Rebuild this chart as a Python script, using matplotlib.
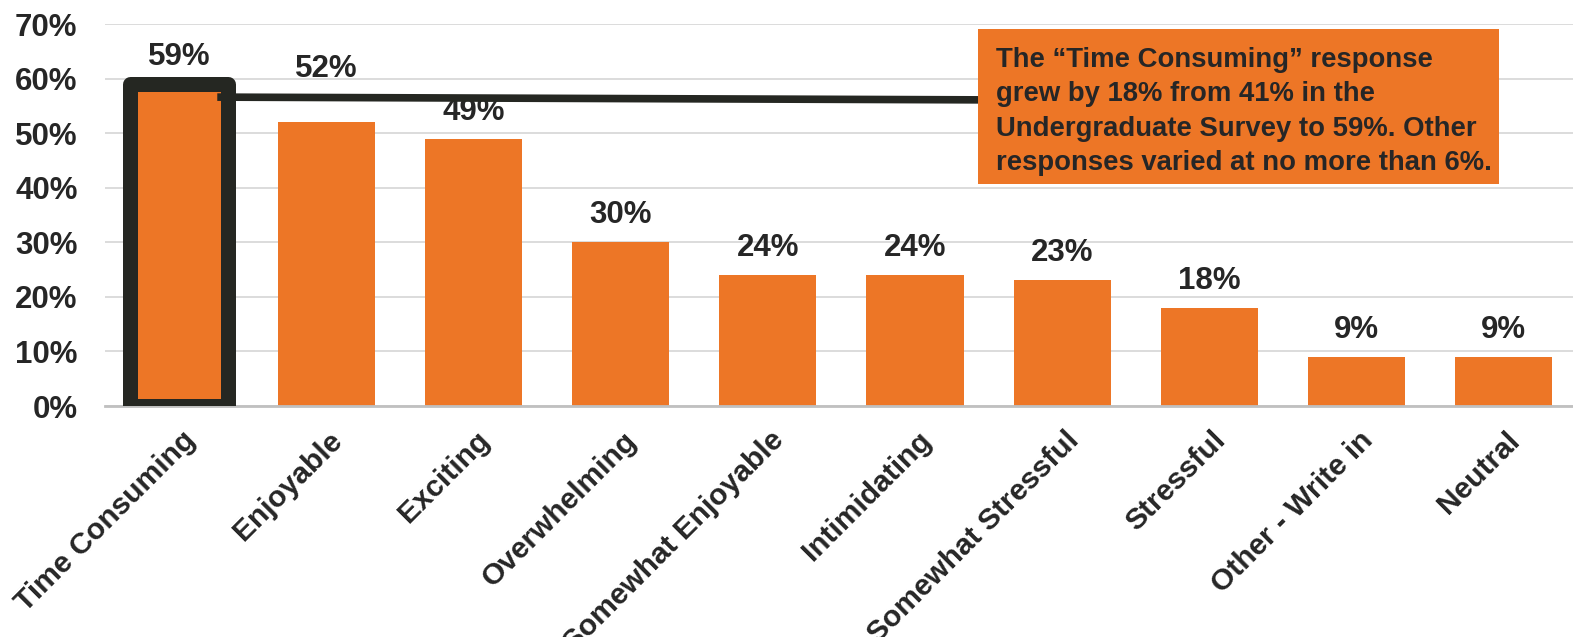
import matplotlib
matplotlib.use("Agg")
import matplotlib.pyplot as plt
from matplotlib.patches import Rectangle
from matplotlib.transforms import ScaledTranslation

plt.rcParams['font.family'] = ['Liberation Sans', 'DejaVu Sans']
plt.rcParams['font.weight'] = 'bold'

categories = ['Time Consuming', 'Enjoyable', 'Exciting', 'Overwhelming',
              'Somewhat Enjoyable', 'Intimidating', 'Somewhat Stressful',
              'Stressful', 'Other - Write in', 'Neutral']
values = [59, 52, 49, 30, 24, 24, 23, 18, 9, 9]
yticks = [0, 10, 20, 30, 40, 50, 60, 70]
note = ('The \u201cTime Consuming\u201d response\n'
        'grew by 18% from 41% in the\n'
        'Undergraduate Survey to 59%. Other\n'
        'responses varied at no more than 6%.')

orange = '#ED7626'
dark = '#262626'

fig = plt.figure(figsize=(15.73, 6.37), dpi=100)
ax = fig.add_axes([105.4 / 1573, 231 / 637, 1472 / 1573, 382 / 637])

x = list(range(len(categories)))
bars = ax.bar(x, values, width=0.66, color=orange, zorder=2)

# highlight the first bar with a thick dark outline
bars[0].set_edgecolor('#252722')
bars[0].set_linewidth(10.8)
bars[0].set_joinstyle('round')
bars[0].set_zorder(4)

# value labels (52% was nudged up above the connector line)
for i, v in enumerate(values):
    off = 32.4 if i == 1 else 13.7
    ax.annotate(f'{v}%', (i, v), xytext=(0, off), textcoords='offset points',
                ha='center', va='baseline', fontsize=22.5, fontweight='bold',
                color=dark, zorder=5)

ax.set_xlim(-0.5, len(categories) - 0.5)
ax.set_ylim(0, 70)
ax.set_yticks(yticks)
ax.set_yticklabels([f'{t}%' for t in yticks])
ax.set_xticks(x)
ax.set_xticklabels(categories, rotation=45, ha='right', va='top',
                   rotation_mode='anchor')
ax.tick_params(axis='y', length=0, pad=20, labelsize=22.5, labelcolor=dark)
ax.tick_params(axis='x', length=0, pad=14.5, labelsize=21.5, labelcolor=dark)
for lab in ax.get_xticklabels():
    lab.set_fontweight('bold')
    lab.set_transform(lab.get_transform() + ScaledTranslation(2 / 100, 0, fig.dpi_scale_trans))
for lab in ax.get_yticklabels():
    lab.set_fontweight('bold')

ax.grid(axis='y', color='#d9d9d9', linewidth=1.3, zorder=0)
ax.set_axisbelow(True)
for s in ['top', 'right', 'left']:
    ax.spines[s].set_visible(False)
ax.spines['bottom'].set_color('#c0c0c0')
ax.spines['bottom'].set_linewidth(2)
ax.spines['bottom'].set_zorder(3)

# callout box and connector
bx0, bx1, by0, by1 = 5.43, 8.97, 40.7, 69.1
ax.plot([0.26, bx0], [56.6, 56.1], color='#252722', linewidth=5.5,
        solid_capstyle='butt', zorder=5)
ax.add_patch(Rectangle((bx0, by0), bx1 - bx0, by1 - by0, facecolor=orange,
                       edgecolor='none', zorder=6, clip_on=False))
ax.text(bx0 + 0.12, 65.8, note, ha='left', va='top',
        fontsize=19.8, fontweight='bold', color=dark, linespacing=1.42, zorder=7)

fig.savefig('out.png', dpi=100)
